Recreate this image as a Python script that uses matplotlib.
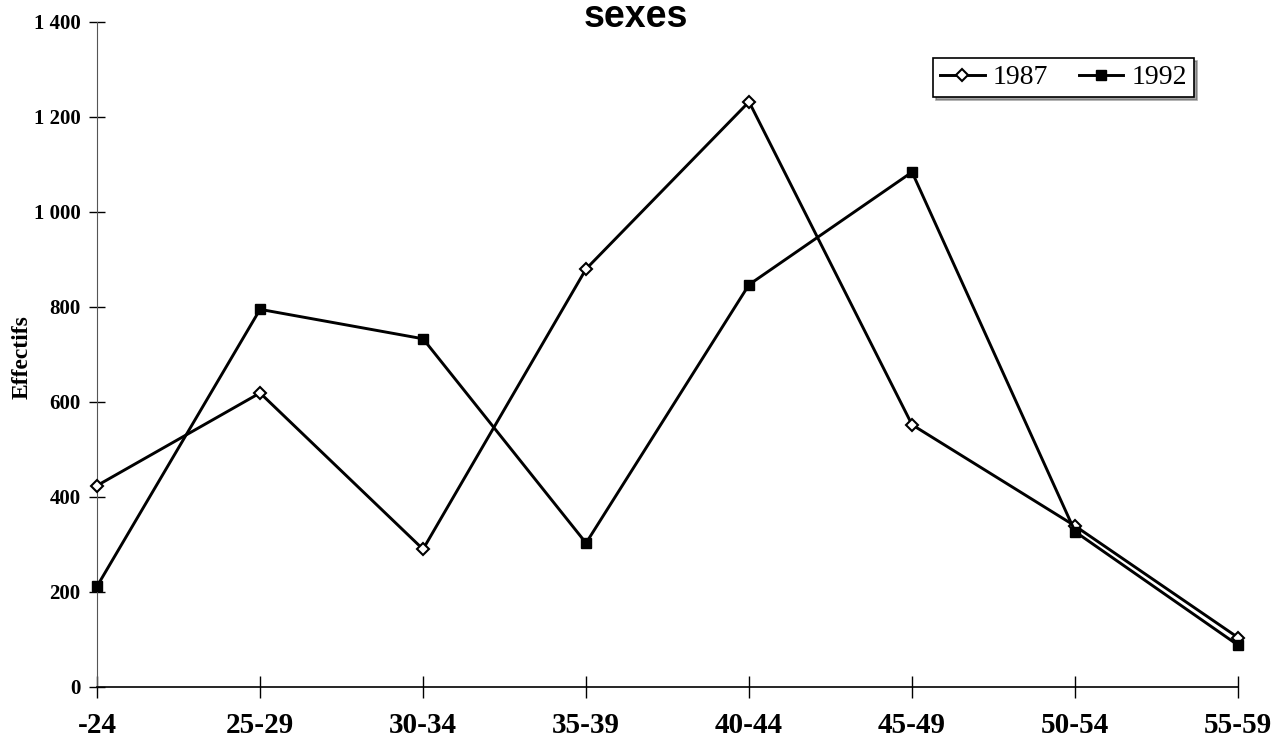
import matplotlib
matplotlib.use('Agg')
import matplotlib.pyplot as plt

# tranches d'âge et effectifs
tranches = ['-24', '25-29', '30-34', '35-39', '40-44', '45-49', '50-54', '55-59']
eff_1987 = [424, 619, 290, 880, 1232, 552, 339, 104]
eff_1992 = [212, 795, 733, 303, 847, 1084, 327, 88]
y_ticks = [0, 200, 400, 600, 800, 1000, 1200, 1400]
y_labels = ['0', '200', '400', '600', '800', '1 000', '1 200', '1 400']

serif = 'Liberation Serif'

fig = plt.figure(figsize=(12.77, 7.45), dpi=100)
ax = fig.add_axes([0.076, 0.0779, 0.8935, 0.8926])

x = list(range(len(tranches)))
ax.plot(x, eff_1987, color='black', linewidth=2.1, marker='D', markersize=6.5,
        markerfacecolor='white', markeredgecolor='black', markeredgewidth=1.5,
        label='1987', clip_on=False, zorder=3)
ax.plot(x, eff_1992, color='black', linewidth=2.1, marker='s', markersize=7.5,
        markerfacecolor='black', markeredgecolor='black',
        label='1992', clip_on=False, zorder=3)

ax.set_xlim(0, len(tranches) - 1)
ax.set_ylim(0, 1400)
ax.set_xticks(x)
ax.set_xticklabels(tranches, fontfamily=serif, fontweight='bold', fontsize=21)
ax.set_yticks(y_ticks)
ax.set_yticklabels(y_labels, fontfamily=serif, fontweight='bold', fontsize=15)
ax.tick_params(axis='x', direction='inout', length=16, width=1, pad=10)
ax.tick_params(axis='y', direction='inout', length=12, width=1, pad=6)

for s in ['top', 'right']:
    ax.spines[s].set_visible(False)
ax.spines['left'].set_color('#555555')
ax.spines['bottom'].set_color('black')
ax.spines['bottom'].set_linewidth(1.2)

# titre de l'axe des y
fig.text(22 / 1277, 1 - 357 / 745, 'Effectifs', fontfamily=serif, fontweight='bold',
         fontsize=17, rotation=90, ha='center', va='center')

# titre coupé en haut de l'image
fig.text(0.498, 1 - 27 / 745, 'sexes', fontfamily='Liberation Sans', fontweight='bold',
         fontsize=27, ha='center', va='baseline')

leg = ax.legend(loc='upper right', bbox_to_anchor=(1194 / 1277, 1 - 58 / 745),
                bbox_transform=fig.transFigure, borderaxespad=0, ncol=2,
                frameon=True, fancybox=False, shadow=True, edgecolor='black',
                handlelength=1.6, handletextpad=0.3, columnspacing=1.1,
                borderpad=0.25, prop={'family': serif, 'size': 20})
leg.get_frame().set_linewidth(1.2)

fig.savefig('out.png', dpi=100)
